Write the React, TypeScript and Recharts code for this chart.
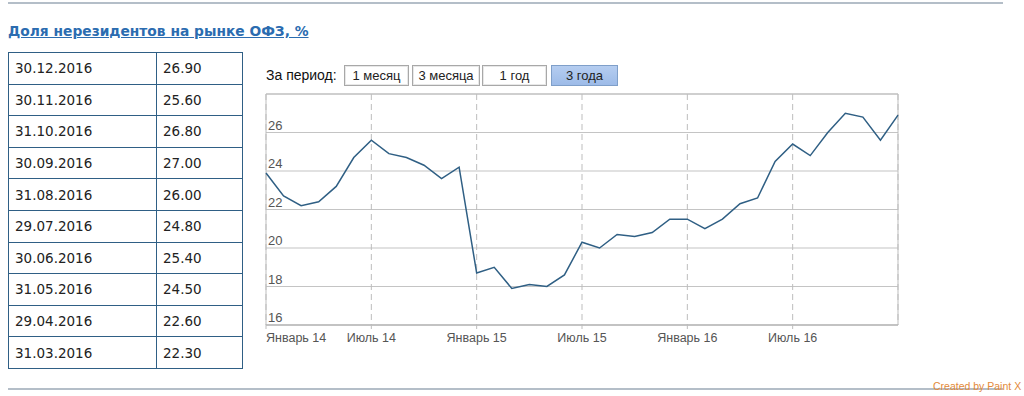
import {
  LineChart,
  Line,
  XAxis,
  YAxis,
  CartesianGrid,
  ReferenceLine,
} from 'recharts';

// table on the left (latest first)
const TABLE_DATES = [
  '30.12.2016',
  '30.11.2016',
  '31.10.2016',
  '30.09.2016',
  '31.08.2016',
  '29.07.2016',
  '30.06.2016',
  '31.05.2016',
  '29.04.2016',
  '31.03.2016',
];
const TABLE_VALUES = [
  '26.90', '25.60', '26.80', '27.00', '26.00',
  '24.80', '25.40', '24.50', '22.60', '22.30',
];

const PERIODS = ['1 месяц', '3 месяца', '1 год', '3 года'];
const ACTIVE_PERIOD = 3;

// month-end points, Dec 2013 .. Dec 2016
const MONTHS = [
  '12.2013',
  '01.2014', '02.2014', '03.2014', '04.2014', '05.2014', '06.2014',
  '07.2014', '08.2014', '09.2014', '10.2014', '11.2014', '12.2014',
  '01.2015', '02.2015', '03.2015', '04.2015', '05.2015', '06.2015',
  '07.2015', '08.2015', '09.2015', '10.2015', '11.2015', '12.2015',
  '01.2016', '02.2016', '03.2016', '04.2016', '05.2016', '06.2016',
  '07.2016', '08.2016', '09.2016', '10.2016', '11.2016', '12.2016',
];
const SHARE = [
  23.9,
  22.7, 22.2, 22.4, 23.2, 24.7, 25.6,
  24.9, 24.7, 24.3, 23.6, 24.2, 18.7,
  19.0, 17.9, 18.1, 18.0, 18.6, 20.3,
  20.0, 20.7, 20.6, 20.8, 21.5, 21.5,
  21.0, 21.5, 22.3, 22.6, 24.5, 25.4,
  24.8, 26.0, 27.0, 26.8, 25.6, 26.9,
];

const X_TICKS = [0, 6, 12, 18, 24, 30];
const X_TICK_LABELS = [
  'Январь 14',
  'Июль 14',
  'Январь 15',
  'Июль 15',
  'Январь 16',
  'Июль 16',
];
const Y_TICKS = [16, 18, 20, 22, 24, 26, 28];

const chartData = MONTHS.map((month, i) => ({
  i,
  month,
  value: SHARE[i],
}));

const FONT = '"Liberation Sans", Arial, Helvetica, sans-serif';
const TABLE_FONT = '"DejaVu Sans", Verdana, sans-serif';
const GRID = '#c4c4c4';

function XTick(props: any) {
  const { x, y, payload, index } = props;
  const idx = X_TICKS.indexOf(payload.value);
  return (
    <text
      x={x}
      y={y + 11}
      textAnchor={index === 0 ? 'start' : 'middle'}
      fill="#555"
      fontSize={12.5}
      fontFamily={FONT}
    >
      {X_TICK_LABELS[idx]}
    </text>
  );
}

function YTick(props: any) {
  const { y, payload } = props;
  if (payload.value === 28) return <g />;
  return (
    <text
      x={4}
      y={y - 3}
      textAnchor="start"
      fill="#555"
      fontSize={13}
      fontFamily={FONT}
    >
      {payload.value}
    </text>
  );
}

export default function App() {
  const rowH = 31.6;

  return (
    <div
      style={{
        position: 'absolute',
        left: 0,
        top: 0,
        width: 1024,
        height: 396,
        background: '#fff',
        overflow: 'hidden',
        fontFamily: FONT,
      }}
    >
      <div
        style={{
          position: 'absolute',
          left: 8,
          top: 2,
          width: 995,
          height: 2,
          background: '#b4bec8',
        }}
      />

      <div
        style={{
          position: 'absolute',
          left: 8,
          top: 23,
          fontFamily: TABLE_FONT,
          fontWeight: 'bold',
          fontSize: 13.8,
          color: '#2b6cb0',
          textDecoration: 'underline',
          whiteSpace: 'nowrap',
        }}
      >
        Доля нерезидентов на рынке ОФЗ, %
      </div>

      <table
        style={{
          position: 'absolute',
          left: 8,
          top: 52,
          width: 234,
          tableLayout: 'fixed',
          borderCollapse: 'collapse',
          fontFamily: TABLE_FONT,
          fontSize: 13.5,
          color: '#222',
        }}
      >
        <colgroup>
          <col style={{ width: 148 }} />
          <col style={{ width: 86 }} />
        </colgroup>
        <tbody>
          {TABLE_DATES.map((d, k) => (
            <tr key={d} style={{ height: rowH }}>
              <td
                style={{
                  border: '1px solid #2f5f85',
                  padding: '0 0 0 6px',
                }}
              >
                {d}
              </td>
              <td
                style={{
                  border: '1px solid #2f5f85',
                  padding: '0 0 0 6px',
                }}
              >
                {TABLE_VALUES[k]}
              </td>
            </tr>
          ))}
        </tbody>
      </table>

      <div
        style={{
          position: 'absolute',
          left: 266,
          top: 67,
          fontSize: 14,
          color: '#111',
        }}
      >
        За период:
      </div>

      {PERIODS.map((p, k) => {
        const lefts = [344, 412, 482, 551];
        const widths = [65, 68, 65, 67];
        const active = k === ACTIVE_PERIOD;
        return (
          <div
            key={p}
            style={{
              position: 'absolute',
              left: lefts[k],
              top: 65,
              width: widths[k],
              height: 21,
              boxSizing: 'border-box',
              border: active ? '1px solid #7f9fc9' : '1px solid #a8a8a8',
              boxShadow: active ? 'none' : 'inset 0 0 0 1px #e8e8e8',
              background: active
                ? 'linear-gradient(#b5cdf0, #9dbbe8)'
                : '#fff',
              fontSize: 13,
              color: '#222',
              textAlign: 'center',
              lineHeight: '19px',
            }}
          >
            {p}
          </div>
        );
      })}

      <div style={{ position: 'absolute', left: 264, top: 93 }}>
        <LineChart
          width={636}
          height={257}
          data={chartData}
          margin={{ top: 1, right: 2, left: 2, bottom: 0 }}
        >
          <CartesianGrid
            vertical={false}
            stroke={GRID}
            strokeWidth={1.2}
          />
          <CartesianGrid
            horizontal={false}
            stroke="#bdbdbd"
            strokeDasharray="6 4"
          />
          <XAxis
            dataKey="i"
            type="number"
            domain={[0, 36]}
            ticks={X_TICKS}
            height={25}
            tick={<XTick />}
            tickSize={4}
            tickLine={{ stroke: '#bdbdbd' }}
            axisLine={{ stroke: '#b8b8b8', strokeWidth: 1.5 }}
            interval={0}
          />
          <YAxis
            type="number"
            domain={[16, 28]}
            ticks={Y_TICKS}
            width={40}
            mirror
            axisLine={false}
            tickLine={false}
            tick={<YTick />}
            interval={0}
          />
          <ReferenceLine x={0} stroke="#bdbdbd" />
          <ReferenceLine x={36} stroke="#bdbdbd" />
          <ReferenceLine y={28} stroke="#bdbdbd" />
          <Line
            type="linear"
            dataKey="value"
            stroke="#2f5f84"
            strokeWidth={1.5}
            dot={false}
            isAnimationActive={false}
          />
        </LineChart>
      </div>

      <div
        style={{
          position: 'absolute',
          left: 8,
          top: 388,
          width: 995,
          height: 2,
          background: '#b4bec8',
        }}
      />
      <div
        style={{
          position: 'absolute',
          left: 933,
          top: 380,
          fontSize: 10.5,
          color: '#e38a3a',
          whiteSpace: 'nowrap',
        }}
      >
        Created by Paint X
      </div>
    </div>
  );
}
